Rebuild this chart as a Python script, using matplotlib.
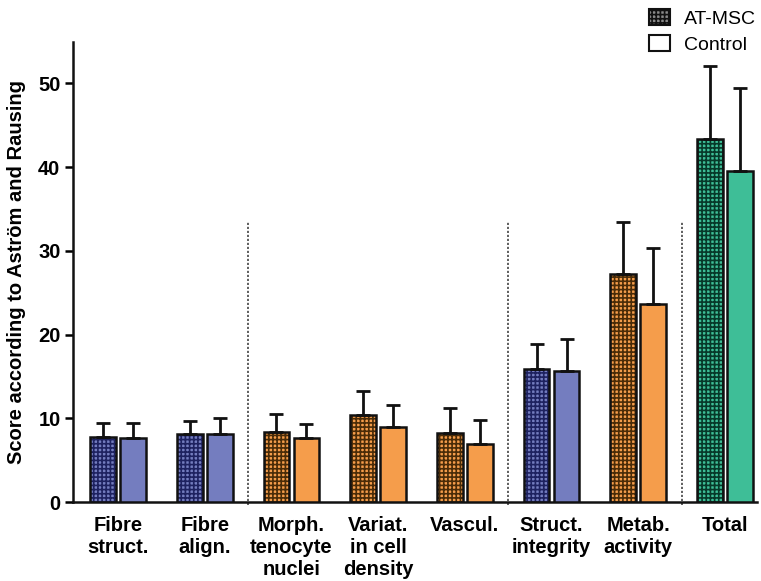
import matplotlib
matplotlib.use("Agg")
import matplotlib.pyplot as plt
import numpy as np
from matplotlib.patches import Patch

plt.rcParams["font.family"] = ["Liberation Sans", "DejaVu Sans"]
plt.rcParams["hatch.linewidth"] = 1.2

categories = ["Fibre\nstruct.", "Fibre\nalign.", "Morph.\ntenocyte\nnuclei",
              "Variat.\nin cell\ndensity", "Vascul.", "Struct.\nintegrity",
              "Metab.\nactivity", "Total"]
at_msc_mean = [7.8, 8.1, 8.4, 10.4, 8.2, 15.9, 27.2, 43.4]
at_msc_sd = [1.6, 1.6, 2.1, 2.9, 3.0, 3.0, 6.2, 8.7]
control_mean = [7.6, 8.1, 7.6, 8.9, 6.9, 15.7, 23.7, 39.5]
control_sd = [1.8, 1.9, 1.7, 2.7, 2.9, 3.8, 6.6, 9.9]
category_group = ["struct", "struct", "cell", "cell", "cell", "struct", "cell", "total"]
group_colors = {"struct": "#747DBF", "cell": "#F59D4B", "total": "#3EBE97"}
group_dark = {"struct": "#1E2260", "cell": "#4A2C08", "total": "#07392A"}
separators = [1.5, 4.5, 6.5]
yticks = [0, 10, 20, 30, 40, 50]

fig = plt.figure(figsize=(7.61, 5.81), dpi=100)
ax = fig.add_axes([73 / 761, 1 - 502 / 581, (757 - 73) / 761, (502 - 41.6) / 581])

x = np.arange(len(categories))
width = 0.294
offset = 0.173
colors = [group_colors[g] for g in category_group]
darks = [group_dark[g] for g in category_group]
err_kw = dict(ecolor="#111111", elinewidth=2.0, capsize=4.8, capthick=2.0)

# checkered AT-MSC bars: coloured fill with a dark hatch, black outline on top
ax.bar(x - offset, at_msc_mean, width, color=colors, edgecolor=darks,
       linewidth=0, hatch="++++", zorder=3)
ax.bar(x - offset, at_msc_mean, width, fill=False, edgecolor="#111111",
       linewidth=1.8, zorder=4,
       yerr=[np.zeros(len(x)), at_msc_sd], error_kw=err_kw)
ax.bar(x + offset, control_mean, width, color=colors, edgecolor="#111111",
       linewidth=1.8, zorder=3,
       yerr=[np.zeros(len(x)), control_sd], error_kw=err_kw)

for s in separators:
    ax.plot([s, s], [-0.4, 33.5], ls=(0, (1.3, 1.1)), color="#444444",
            lw=1.2, clip_on=False, zorder=2)

ax.set_xlim(-0.52, 7.37)
ax.set_ylim(0, 55)
ax.set_yticks(yticks)
ax.set_yticklabels([str(t) for t in yticks], fontsize=14.5, fontweight="bold")
ax.set_xticks(x)
ax.set_xticklabels(categories, fontsize=14.5, fontweight="bold", va="top",
                   linespacing=1.2)
ax.tick_params(axis="x", length=0, pad=10)
ax.tick_params(axis="y", length=6, width=1.8, pad=3)
ax.set_ylabel("Score according to Aström and Rausing", fontsize=14.5,
              fontweight="bold", labelpad=9)

for side in ["top", "right"]:
    ax.spines[side].set_visible(False)
for side in ["left", "bottom"]:
    ax.spines[side].set_linewidth(1.8)
    ax.spines[side].set_color("#111111")

handles = [Patch(facecolor="#8A8A8A", edgecolor="#111111", hatch="++++", linewidth=1.5),
           Patch(facecolor="white", edgecolor="#111111", linewidth=1.5)]
fig.legend(handles, ["AT-MSC", "Control"], loc="upper right",
           bbox_to_anchor=(1.016, 1.015), frameon=False, fontsize=14,
           handlelength=1.1, handleheight=0.9, handletextpad=0.7,
           labelspacing=0.4)

fig.savefig("out.png", dpi=100)
